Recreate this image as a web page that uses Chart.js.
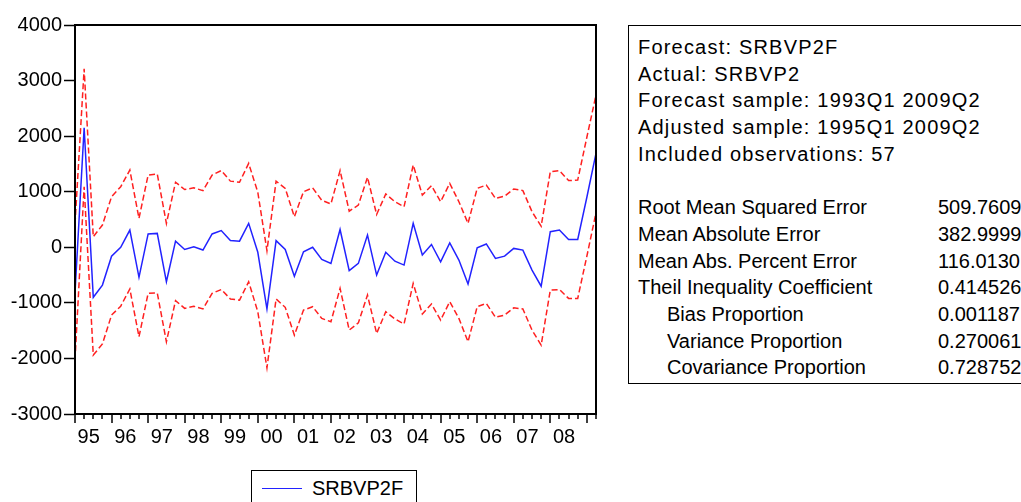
<!DOCTYPE html>
<html>
<head>
<meta charset="utf-8">
<script src="https://cdn.jsdelivr.net/npm/chart.js@4"></script>
<style>
  body { margin: 0; background: #fff; width: 1021px; height: 502px; overflow: hidden; position: relative; font-family: "Liberation Sans", Arial, sans-serif; }
  #wrap { position: absolute; left: 0; top: 0; width: 620px; height: 460px; }
  #stats { position: absolute; left: 628px; top: 25px; width: 420px; height: 359px; border: 1px solid #000; box-sizing: border-box; font-size: 20px; color: #000; }
  #stats div { position: absolute; white-space: nowrap; line-height: 20px; }
  #stats .head { letter-spacing: 1.2px; }
  #legend { position: absolute; left: 251px; top: 470px; width: 166px; height: 50px; border: 1px solid #000; box-sizing: border-box; }
  #legend .swatch { position: absolute; left: 10px; top: 17px; width: 40px; height: 0; border-top: 1.5px solid #2222ff; }
  #legend .lab { position: absolute; left: 60px; top: 7px; font-size: 20px; line-height: 20px; }
</style>
</head>
<body>
<div id="wrap"><canvas id="chart"></canvas></div>
<div id="stats"></div>
<div id="legend"><div class="swatch"></div><div class="lab">SRBVP2F</div></div>
<script>
// Data: 1995Q1 .. 2009Q2
const years = ['95', '96', '97', '98', '99', '00', '01', '02', '03', '04', '05', '06', '07', '08'];
const firstYear = 1995;
const nQuarters = 58;

const forecast = [
  -820, 2150, -900, -680, -160, 0, 310, -540, 240, 250,
  -620, 110, -40, 10, -50, 240, 300, 120, 110, 430,
  -90, -1110, 120, -40, -520, -80, 0, -220, -290, 320,
  -420, -290, 220, -500, -90, -250, -320, 430, -140, 50,
  -260, 80, -230, -660, -10, 60, -200, -160, -20, -50,
  -410, -700, 280, 310, 140, 140, 900, 1690
];
const upperBand = [
  420, 3210, 190, 400, 910, 1090, 1390, 520, 1300, 1320,
  430, 1170, 1040, 1070, 1020, 1300, 1380, 1190, 1170, 1510,
  990, -60, 1190, 1060, 550, 1000, 1070, 845, 780, 1380,
  650, 760, 1260, 590, 960, 820, 730, 1480, 940, 1110,
  820, 1150, 820, 430, 1060, 1120, 880, 920, 1050, 1020,
  640, 380, 1360, 1380, 1200, 1210, 1980, 2740
];
const lowerBand = [
  -2030, 1090, -1940, -1740, -1220, -1060, -750, -1610, -830, -820,
  -1700, -960, -1100, -1060, -1110, -830, -760, -930, -950, -620,
  -1160, -2170, -930, -1080, -1580, -1130, -1070, -1280, -1340, -740,
  -1490, -1360, -860, -1550, -1160, -1290, -1380, -650, -1200, -1020,
  -1310, -980, -1280, -1700, -1070, -1010, -1260, -1220, -1090, -1110,
  -1490, -1760, -770, -760, -920, -920, -160, 620
];

const yMin = -3000, yMax = 4000, yStep = 1000;

const headerLines = [
  'Forecast: SRBVP2F',
  'Actual: SRBVP2',
  'Forecast sample: 1993Q1 2009Q2',
  'Adjusted sample: 1995Q1 2009Q2',
  'Included observations: 57'
];
const statNames = [
  'Root Mean Squared Error', 'Mean Absolute Error', 'Mean Abs. Percent Error',
  'Theil Inequality Coefficient', 'Bias Proportion', 'Variance Proportion', 'Covariance Proportion'
];
const statValues = ['509.7609', '382.9999', '116.0130', '0.414526', '0.001187', '0.270061', '0.728752'];
const statIndent = [false, false, false, false, true, true, true];

const quarters = [];
for (let i = 0; i < nQuarters; i++) {
  quarters.push((firstYear + Math.floor(i / 4)) + 'Q' + (i % 4 + 1));
}

// Stats box
const stats = document.getElementById('stats');
const lineH = 26.7;
function addLine(text, left, top, cls) {
  const d = document.createElement('div');
  d.textContent = text;
  d.style.left = left + 'px';
  d.style.top = top + 'px';
  if (cls) d.className = cls;
  stats.appendChild(d);
}
headerLines.forEach((t, k) => addLine(t, 9, 11 + k * lineH, 'head'));
statNames.forEach((t, k) => {
  const top = 11 + (k + 6) * lineH;
  addLine(t, statIndent[k] ? 38 : 9, top);
  addLine(statValues[k], 309, top);
});

// frame, x ticks and year labels
const framePlugin = {
  id: 'framePlugin',
  afterDraw(chart) {
    const { ctx, chartArea: a, scales: { x } } = chart;
    ctx.save();
    ctx.strokeStyle = '#000';
    ctx.lineWidth = 2;
    ctx.strokeRect(a.left, a.top, a.right - a.left, a.bottom - a.top);
    ctx.lineWidth = 1.5;
    ctx.beginPath();
    quarters.forEach((q, i) => {
      const px = Math.round(x.getPixelForValue(i));
      const len = q.endsWith('Q1') ? 9 : 5;
      ctx.moveTo(px, a.bottom);
      ctx.lineTo(px, a.bottom + len);
    });
    ctx.stroke();
    ctx.fillStyle = '#000';
    ctx.font = '20px "Liberation Sans", Arial, sans-serif';
    ctx.textAlign = 'center';
    ctx.textBaseline = 'middle';
    years.forEach((lab, k) => {
      ctx.fillText(lab, x.getPixelForValue(k * 4 + 1.5), a.bottom + 23);
    });
    ctx.restore();
  }
};

new Chart(document.getElementById('chart'), {
  type: 'line',
  data: {
    labels: quarters,
    datasets: [
      { label: 'SRBVP2F', data: forecast, borderColor: '#2222ff', borderWidth: 1.5, pointRadius: 0, tension: 0 },
      { label: 'Upper', data: upperBand, borderColor: '#ff2020', borderWidth: 1.5, borderDash: [6, 3], pointRadius: 0, tension: 0 },
      { label: 'Lower', data: lowerBand, borderColor: '#ff2020', borderWidth: 1.5, borderDash: [6, 3], pointRadius: 0, tension: 0 }
    ]
  },
  options: {
    responsive: true,
    maintainAspectRatio: false,
    animation: false,
    layout: { padding: { left: 0, top: 25, right: 24, bottom: 0 } },
    plugins: { legend: { display: false }, tooltip: { enabled: false } },
    scales: {
      x: {
        type: 'category',
        offset: false,
        grid: { display: false },
        border: { display: false },
        ticks: { display: false },
        afterFit: s => { s.height = 46; }
      },
      y: {
        min: yMin,
        max: yMax,
        ticks: {
          stepSize: yStep, color: '#000', padding: 2,
          font: { family: '"Liberation Sans", Arial, sans-serif', size: 20 },
          callback: v => String(v)
        },
        grid: { drawOnChartArea: false, tickLength: 11, tickColor: '#000', tickWidth: 1.5 },
        border: { color: '#000', width: 2 },
        afterFit: s => { s.width = 75; }
      }
    }
  },
  plugins: [framePlugin]
});
</script>
</body>
</html>
